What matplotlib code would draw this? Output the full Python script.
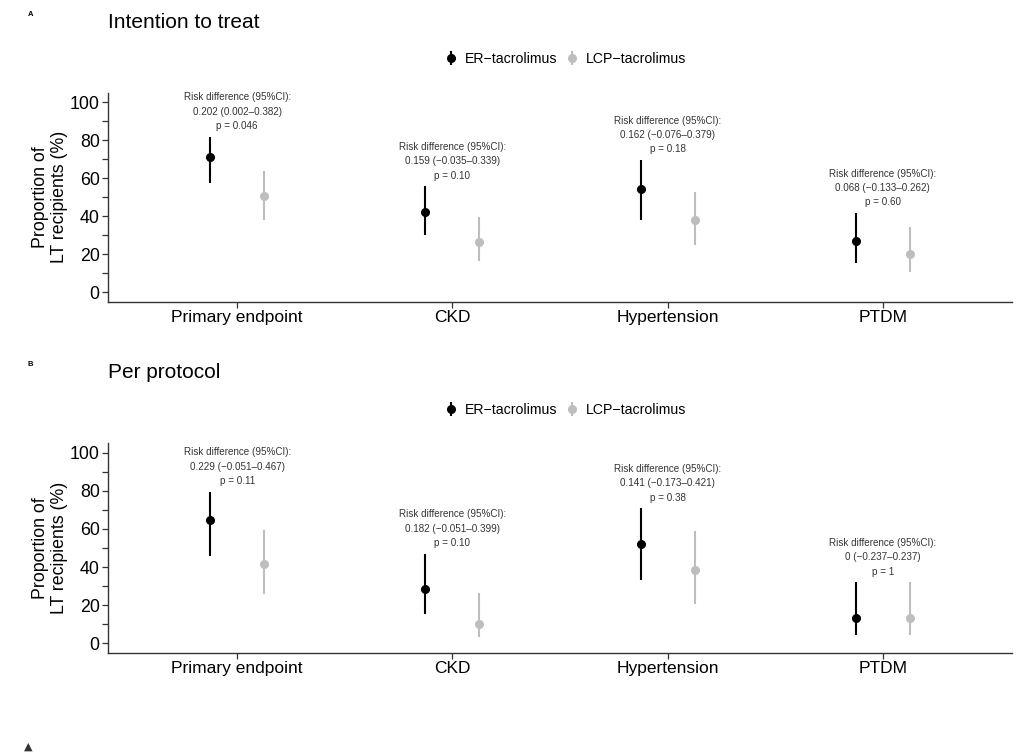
import matplotlib
matplotlib.use("Agg")
import matplotlib.pyplot as plt
import numpy as np

plt.rcParams['font.family'] = ['Liberation Sans', 'DejaVu Sans']

categories = ["Primary endpoint", "CKD", "Hypertension", "PTDM"]
groups = ["ER\u2212tacrolimus", "LCP\u2212tacrolimus"]

# Panel A: intention to treat (percent)
itt_er = [71.2, 42.2, 54.5, 26.9]
itt_er_lo = [57.7, 30.0, 38.2, 15.7]
itt_er_hi = [81.7, 55.7, 69.5, 41.7]
itt_lcp = [50.9, 26.3, 38.0, 20.1]
itt_lcp_lo = [37.9, 16.4, 25.1, 10.6]
itt_lcp_hi = [63.9, 39.6, 53.0, 34.4]
itt_rd = ["0.202 (0.002\u20130.382)", "0.159 (\u22120.035\u20130.339)",
          "0.162 (\u22120.076\u20130.379)", "0.068 (\u22120.133\u20130.262)"]
itt_p = ["0.046", "0.10", "0.18", "0.60"]

# Panel B: per protocol (percent)
pp_er = [64.5, 28.6, 52.3, 13.0]
pp_er_lo = [45.9, 15.3, 33.0, 4.4]
pp_er_hi = [79.5, 47.0, 70.8, 31.9]
pp_lcp = [41.4, 10.2, 38.2, 13.0]
pp_lcp_lo = [25.6, 3.5, 20.7, 4.4]
pp_lcp_hi = [59.5, 26.3, 59.1, 31.9]
pp_rd = ["0.229 (\u22120.051\u20130.467)", "0.182 (\u22120.051\u20130.399)",
         "0.141 (\u22120.173\u20130.421)", "0 (\u22120.237\u20130.237)"]
pp_p = ["0.11", "0.10", "0.38", "1"]

yticks = [0, 20, 40, 60, 80, 100]

W, H = 1025, 754
fig = plt.figure(figsize=(W / 100, H / 100), dpi=100)

ER_COL = "black"
LCP_COL = "#BEBEBE"
AX_COL = "#333333"


def panel(rect, label, title, er, er_lo, er_hi, lcp, lcp_lo, lcp_hi, rd, pv, title_y, legend_y):
    ax = fig.add_axes(rect)
    x = np.arange(len(categories))
    d = 0.125
    h1 = ax.errorbar(x - d, er, yerr=[np.array(er) - np.array(er_lo), np.array(er_hi) - np.array(er)],
                     fmt='o', color=ER_COL, ms=5.5, elinewidth=1.5, capsize=0, zorder=3)
    h2 = ax.errorbar(x + d, lcp, yerr=[np.array(lcp) - np.array(lcp_lo), np.array(lcp_hi) - np.array(lcp)],
                     fmt='o', color=LCP_COL, ms=5.5, elinewidth=1.5, capsize=0, zorder=3)
    for i in range(len(categories)):
        ax.text(x[i], er_hi[i] + 3.0, "Risk difference (95%CI):\n" + rd[i] + "\np = " + pv[i],
                ha='center', va='bottom', fontsize=7.1, color="#333333", linespacing=1.55)
    ax.set_xlim(-0.6, len(categories) - 1 + 0.6)
    ax.set_ylim(-5, 105)
    ax.set_xticks(x)
    ax.set_xticklabels(categories, fontsize=12.5, color="black")
    ax.set_yticks(yticks)
    ax.set_yticklabels([str(v) for v in yticks], fontsize=12.8, color="black")
    ax.set_yticks([10, 30, 50, 70, 90], minor=True)
    ax.tick_params(axis='both', which='major', length=4, width=0.9, color=AX_COL, pad=2)
    ax.tick_params(axis='y', which='minor', length=4, width=0.9, color=AX_COL)
    for s in ['top', 'right']:
        ax.spines[s].set_visible(False)
    for s in ['left', 'bottom']:
        ax.spines[s].set_color(AX_COL)
        ax.spines[s].set_linewidth(1.0)
    ax.set_ylabel("Proportion of\nLT recipients (%)", fontsize=12.8, labelpad=1, linespacing=1.2)
    fig.text(rect[0], 1 - title_y / H, title, fontsize=15, ha='left', va='center')
    fig.text(28 / W, 1 - (title_y - 9) / H, label, fontsize=5.5, fontweight='bold', ha='left', va='center')
    fig.legend([h1, h2], groups, loc='center', bbox_to_anchor=(0.552, 1 - legend_y / H),
               ncol=2, frameon=False, fontsize=10.2, handlelength=0.8, handletextpad=0.6,
               columnspacing=0.65)
    return ax


axl, axr = 108 / W, 1012 / W
panel([axl, 1 - 302 / H, axr - axl, (302 - 92.5) / H], "A", "Intention to treat",
      itt_er, itt_er_lo, itt_er_hi, itt_lcp, itt_lcp_lo, itt_lcp_hi, itt_rd, itt_p, 23, 59)
panel([axl, 1 - 652.7 / H, axr - axl, (652.7 - 443.3) / H], "B", "Per protocol",
      pp_er, pp_er_lo, pp_er_hi, pp_lcp, pp_lcp_lo, pp_lcp_hi, pp_rd, pp_p, 373, 410)

fig.text(28 / W, 1 - 747 / H, "\u25B2", fontsize=8, color="#333333", ha='center', va='center',
         family=['DejaVu Sans'])

fig.savefig("out.png", dpi=100)
